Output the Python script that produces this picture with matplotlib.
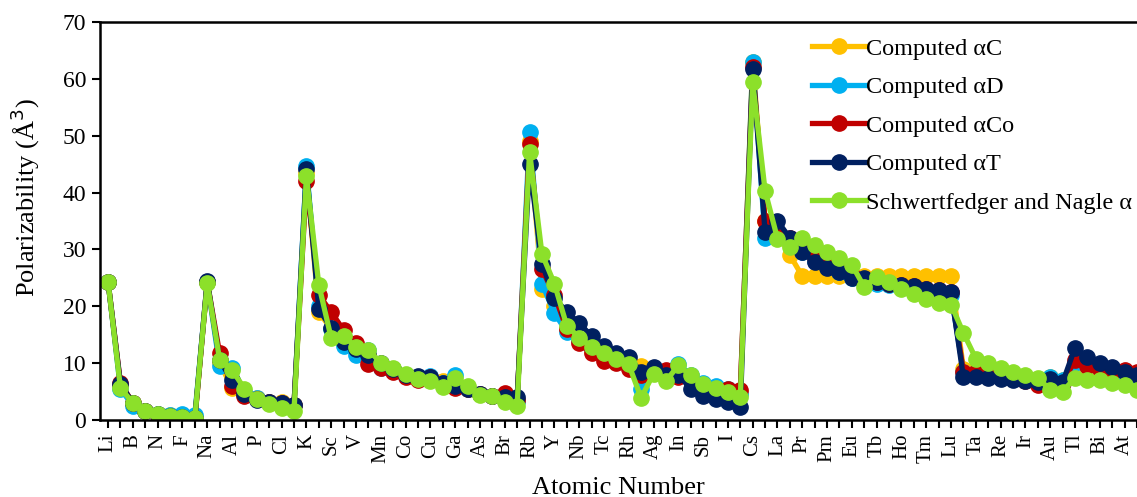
import matplotlib
matplotlib.use('Agg')
import matplotlib.pyplot as plt

plt.rcParams['font.family'] = ['Liberation Serif', 'DejaVu Serif']

# elements Li (Z=3) .. Rn (Z=86)
symbols = ['Li', 'Be', 'B', 'C', 'N', 'O', 'F', 'Ne', 'Na', 'Mg', 'Al', 'Si', 'P', 'S',
           'Cl', 'Ar', 'K', 'Ca', 'Sc', 'Ti', 'V', 'Cr', 'Mn', 'Fe', 'Co', 'Ni', 'Cu',
           'Zn', 'Ga', 'Ge', 'As', 'Se', 'Br', 'Kr', 'Rb', 'Sr', 'Y', 'Zr', 'Nb', 'Mo',
           'Tc', 'Ru', 'Rh', 'Pd', 'Ag', 'Cd', 'In', 'Sn', 'Sb', 'Te', 'I', 'Xe', 'Cs',
           'Ba', 'La', 'Ce', 'Pr', 'Nd', 'Pm', 'Sm', 'Eu', 'Gd', 'Tb', 'Dy', 'Ho', 'Er',
           'Tm', 'Yb', 'Lu', 'Hf', 'Ta', 'W', 'Re', 'Os', 'Ir', 'Pt', 'Au', 'Hg', 'Tl',
           'Pb', 'Bi', 'Po', 'At', 'Rn']
atomic_number = list(range(3, 3 + len(symbols)))

alpha_C = [24.3, 6.0, 3.0, 1.6, 1.0, 0.8, 0.5, 0.2, 24.3, 10.0, 5.7, 4.8, 3.8, 3.2,
           3.2, 2.7, 43.5, 19.0, 16.0, 13.5, 12.5, 11.5, 9.8, 9.0, 8.0, 7.5, 7.5,
           6.9, 6.5, 5.5, 4.5, 4.3, 4.5, 3.5, 49.0, 23.0, 20.0, 16.0, 14.0, 12.2,
           11.0, 10.3, 9.8, 9.5, 8.8, 8.3, 8.0, 7.0, 6.0, 5.2, 5.2, 4.8, 63.0,
           35.0, 33.0, 29.0, 25.3, 25.3, 25.3, 25.3, 25.3, 25.3, 25.3, 25.3, 25.3, 25.3,
           25.3, 25.3, 25.3, 9.0, 9.0, 8.0, 7.5, 7.2, 7.0, 6.5, 7.5, 7.0, 9.0,
           8.5, 8.0, 7.5, 7.5, 7.5]
alpha_D = [24.3, 5.5, 2.5, 1.5, 1.0, 0.9, 1.0, 0.9, 24.3, 9.5, 9.2, 5.0, 3.8, 3.2,
           3.0, 2.6, 44.6, 20.0, 16.0, 13.0, 11.5, 12.3, 9.2, 9.0, 8.0, 7.5, 7.8,
           6.5, 7.9, 5.5, 4.5, 4.3, 4.2, 3.2, 50.7, 24.0, 18.8, 15.5, 14.0, 12.5,
           11.0, 10.3, 9.5, 5.5, 8.5, 8.0, 9.8, 8.0, 6.5, 6.0, 5.5, 4.5, 63.0,
           32.0, 32.5, 31.5, 29.5, 28.0, 27.0, 26.0, 25.0, 24.5, 24.0, 23.8, 23.5, 23.2,
           22.8, 22.5, 22.0, 8.5, 8.5, 8.0, 7.5, 7.2, 7.0, 6.6, 7.5, 7.0, 10.0,
           9.5, 9.0, 8.5, 8.0, 7.5]
alpha_Co = [24.3, 6.5, 3.0, 1.5, 0.9, 0.5, 0.2, 0.1, 24.3, 11.7, 6.0, 4.3, 3.7, 3.2,
            3.0, 2.7, 42.0, 22.0, 19.0, 15.8, 13.5, 9.8, 9.2, 8.5, 7.5, 7.0, 7.5,
            6.3, 5.6, 5.5, 4.5, 4.3, 4.7, 3.5, 48.5, 26.5, 22.0, 16.0, 13.5, 11.8,
            10.3, 10.0, 9.0, 8.0, 8.3, 8.8, 7.5, 6.8, 6.0, 5.5, 5.5, 5.2, 62.0,
            35.0, 33.0, 32.0, 30.0, 28.5, 27.5, 26.5, 25.5, 24.8, 24.2, 24.0, 23.8, 23.5,
            23.0, 22.8, 22.5, 8.5, 8.5, 8.0, 7.5, 7.2, 6.8, 6.2, 6.5, 6.5, 10.5,
            9.5, 9.0, 8.5, 8.8, 8.5]
alpha_T = [24.3, 6.3, 3.0, 1.6, 1.0, 0.7, 0.5, 0.4, 24.5, 10.5, 7.0, 4.5, 3.5, 3.2,
           3.0, 2.6, 44.2, 19.5, 16.2, 13.7, 12.5, 11.5, 10.0, 9.0, 8.0, 7.8, 7.5,
           6.5, 6.0, 5.5, 4.5, 4.3, 4.0, 4.0, 45.0, 27.5, 21.5, 19.0, 17.0, 14.8,
           13.0, 11.8, 11.0, 8.5, 9.3, 8.0, 8.0, 5.5, 4.2, 3.7, 3.2, 2.2, 61.7,
           33.0, 35.0, 32.0, 29.5, 27.8, 26.8, 26.0, 25.0, 25.0, 24.2, 24.0, 23.8, 23.5,
           23.0, 22.8, 22.5, 7.5, 7.5, 7.3, 7.2, 7.0, 6.8, 6.6, 7.2, 6.6, 12.7,
           11.0, 10.0, 9.3, 8.5, 8.0]
alpha_SN = [24.3, 5.6, 3.04, 1.67, 1.10, 0.79, 0.55, 0.39, 24.1, 10.6, 8.8, 5.53, 3.7, 2.87,
            2.16, 1.64, 42.9, 23.8, 14.4, 14.8, 12.9, 12.3, 10.1, 9.19, 8.15, 7.26, 6.89,
            5.73, 7.41, 5.93, 4.45, 4.28, 3.11, 2.49, 47.2, 29.2, 24.0, 16.6, 14.5, 12.9,
            11.7, 10.7, 9.78, 3.87, 8.15, 6.82, 9.63, 7.85, 6.37, 5.63, 4.88, 4.05, 59.4,
            40.3, 31.9, 30.4, 32.0, 30.8, 29.6, 28.5, 27.3, 23.4, 25.2, 24.2, 23.1, 22.2,
            21.3, 20.6, 20.3, 15.3, 10.8, 10.1, 9.19, 8.45, 8.0, 7.4, 5.3, 5.0, 7.4,
            6.96, 7.1, 6.5, 6.2, 5.2]

series = [
    ('Computed \u03b1C', alpha_C, '#FFC000'),
    ('Computed \u03b1D', alpha_D, '#00B0F0'),
    ('Computed \u03b1Co', alpha_Co, '#C00000'),
    ('Computed \u03b1T', alpha_T, '#002060'),
    ('Schwertfedger and Nagle \u03b1', alpha_SN, '#8CE02A'),
]

fig = plt.figure(figsize=(11.37, 4.97), dpi=100)
ax = fig.add_axes([100 / 1137, 77 / 497, 1037 / 1137, 398 / 497])

for label, vals, color in series:
    ax.plot(atomic_number, vals, color=color, lw=3.8, marker='o',
            markersize=11, label=label)

ax.set_xlim(2.35, 85.7)
ax.set_ylim(0, 70)
ax.set_yticks(range(0, 71, 10))
ax.set_xticks(atomic_number[::2])
ax.set_xticklabels(symbols[::2], rotation=90)
ax.set_xticks(atomic_number, minor=True)
ax.tick_params(axis='x', which='both', direction='out', length=6, width=1.5,
               labelsize=15, pad=4)
ax.tick_params(axis='y', direction='out', length=6, width=1.5, labelsize=17,
               pad=4)

for side in ['left', 'bottom', 'top']:
    ax.spines[side].set_linewidth(1.8)
ax.spines['right'].set_visible(False)

ax.set_ylabel('Polarizability (\u00c5$^3$)', fontsize=19)
ax.yaxis.set_label_coords(-0.056, 0.56)
ax.set_xlabel('Atomic Number', fontsize=19, labelpad=10)

ax.legend(loc='upper right', bbox_to_anchor=(1.01, 1.0), frameon=False,
          fontsize=17.5, handlelength=2.2, handletextpad=0.0, labelspacing=0.68,
          borderaxespad=0.25)

fig.savefig('out.png', dpi=100)
